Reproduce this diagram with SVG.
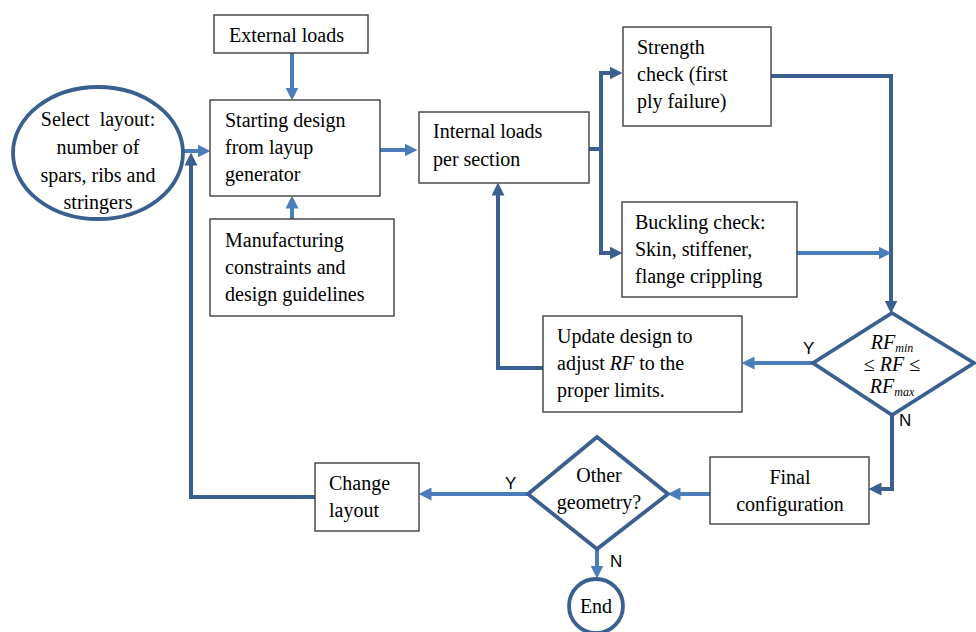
<svg xmlns="http://www.w3.org/2000/svg" width="976" height="632" viewBox="0 0 976 632">
<style>
.box{fill:#fff;stroke:#3f3f3f;stroke-width:1.4}
.t{font-family:"Liberation Serif","Times New Roman",serif;font-size:20px;fill:#000}
.lab{font-family:"Liberation Sans",Arial,sans-serif;font-size:17px;fill:#000}
.shape{fill:#fff;stroke:#3b5f8e;stroke-width:3.8}
.lt{fill:none;stroke:#4a7ebb;stroke-width:4}
.dk{fill:none;stroke:#3b5f8e;stroke-width:4}
</style>
<defs>
<marker id="al" viewBox="0 0 10 10" refX="5" refY="5" markerWidth="13" markerHeight="13" markerUnits="userSpaceOnUse" orient="auto"><path d="M0,0 L10,5 L0,10 z" fill="#4a7ebb"/></marker>
<marker id="ad" viewBox="0 0 10 10" refX="5" refY="5" markerWidth="13" markerHeight="13" markerUnits="userSpaceOnUse" orient="auto"><path d="M0,0 L10,5 L0,10 z" fill="#3b5f8e"/></marker>
</defs>
<g id="connectors">
<path class="lt" d="M292,53 V94" marker-end="url(#al)"/>
<path class="lt" d="M292,219 V202" marker-end="url(#al)"/>
<path class="lt" d="M183,151 H204" marker-end="url(#al)"/>
<path class="lt" d="M380,150 H411" marker-end="url(#al)"/>
<path class="dk" d="M589,149 H601"/>
<path class="dk" d="M601,73 V253"/>
<path class="dk" d="M599,73 H616" marker-end="url(#ad)"/>
<path class="dk" d="M599,253 H616" marker-end="url(#ad)"/>
<path class="dk" d="M771,76 H891 V307" marker-end="url(#ad)"/>
<path class="lt" d="M797,253 H885" marker-end="url(#al)"/>
<path class="lt" d="M813,363 H748" marker-end="url(#al)"/>
<path class="dk" d="M543,368 H498 V189" marker-end="url(#ad)"/>
<path class="dk" d="M892,415 V489 H875" marker-end="url(#ad)"/>
<path class="lt" d="M710,494 H674" marker-end="url(#al)"/>
<path class="lt" d="M528,494 H425" marker-end="url(#al)"/>
<path class="lt" d="M597,549 V572" marker-end="url(#al)"/>
<path class="dk" d="M315,497 H191 V159" marker-end="url(#ad)"/>
<text class="lab" x="803" y="354">Y</text>
<text class="lab" x="899" y="426">N</text>
<text class="lab" x="505" y="489">Y</text>
<text class="lab" x="610" y="567">N</text>
</g>
<g id="select-layout">
<ellipse class="shape" cx="98" cy="153" rx="85" ry="66"/>
<text class="t" text-anchor="middle" x="98" y="126" xml:space="preserve">Select  layout:</text>
<text class="t" text-anchor="middle" x="98" y="154">number of</text>
<text class="t" text-anchor="middle" x="98" y="182">spars, ribs and</text>
<text class="t" text-anchor="middle" x="98" y="209">stringers</text>
</g>
<g id="external-loads">
<rect class="box" x="214" y="15" width="154" height="38"/>
<text class="t" x="229" y="42">External loads</text>
</g>
<g id="starting-design">
<rect class="box" x="210" y="100" width="170" height="96"/>
<text class="t" x="225" y="127">Starting design</text>
<text class="t" x="225" y="154">from layup</text>
<text class="t" x="225" y="181">generator</text>
</g>
<g id="manufacturing">
<rect class="box" x="210" y="219" width="184" height="97"/>
<text class="t" x="225" y="247">Manufacturing</text>
<text class="t" x="225" y="274">constraints and</text>
<text class="t" x="225" y="301">design guidelines</text>
</g>
<g id="internal-loads">
<rect class="box" x="419" y="112" width="170" height="71"/>
<text class="t" x="433" y="138">Internal loads</text>
<text class="t" x="433" y="166">per section</text>
</g>
<g id="strength-check">
<rect class="box" x="623" y="27" width="148" height="99"/>
<text class="t" x="637" y="54">Strength</text>
<text class="t" x="637" y="81">check (first</text>
<text class="t" x="637" y="108">ply failure)</text>
</g>
<g id="buckling-check">
<rect class="box" x="622" y="202" width="175" height="95"/>
<text class="t" x="635" y="229">Buckling check:</text>
<text class="t" x="635" y="256">Skin, stiffener,</text>
<text class="t" x="635" y="283">flange crippling</text>
</g>
<g id="rf-decision">
<polygon class="shape" points="892,313 974,363 892,415 813,363"/>
<text class="t" text-anchor="middle" x="892" y="349" font-style="italic" font-size="18">RF<tspan font-size="12" dy="3">min</tspan></text>
<text class="t" text-anchor="middle" x="892" y="371" font-size="18">≤ <tspan font-style="italic">RF</tspan> ≤</text>
<text class="t" text-anchor="middle" x="892" y="393" font-style="italic" font-size="18">RF<tspan font-size="12" dy="3">max</tspan></text>
</g>
<g id="update-design">
<rect class="box" x="543" y="316" width="199" height="96"/>
<text class="t" x="557" y="343">Update design to</text>
<text class="t" x="557" y="370">adjust <tspan font-style="italic">RF</tspan> to the</text>
<text class="t" x="557" y="397">proper limits.</text>
</g>
<g id="final-configuration">
<rect class="box" x="710" y="457" width="159" height="67"/>
<text class="t" text-anchor="middle" x="790" y="484">Final</text>
<text class="t" text-anchor="middle" x="790" y="511">configuration</text>
</g>
<g id="other-geometry">
<polygon class="shape" points="597,437 668,494 597,549 528,494"/>
<text class="t" text-anchor="middle" x="599" y="482">Other</text>
<text class="t" text-anchor="middle" x="599" y="509">geometry?</text>
</g>
<g id="change-layout">
<rect class="box" x="315" y="463" width="104" height="68"/>
<text class="t" x="329" y="490">Change</text>
<text class="t" x="329" y="517">layout</text>
</g>
<g id="end">
<circle class="shape" cx="596" cy="606" r="27"/>
<text class="t" text-anchor="middle" x="596" y="613">End</text>
</g>
</svg>
